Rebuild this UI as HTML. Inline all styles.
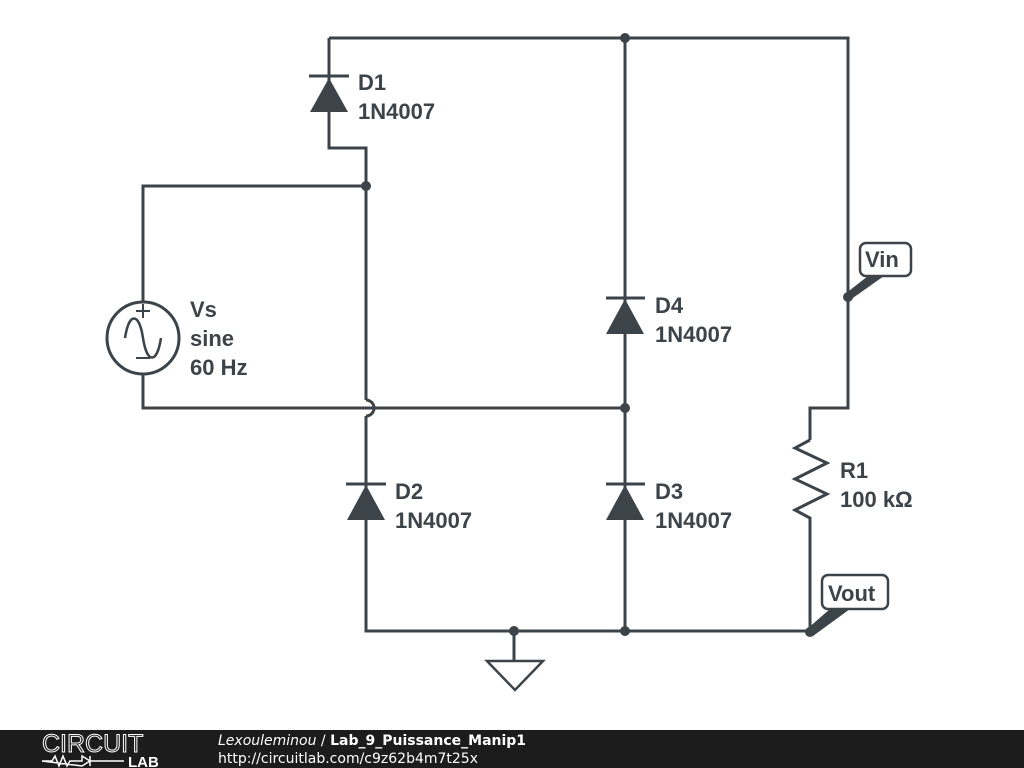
<!DOCTYPE html>
<html><head><style>
body{margin:0;width:1024px;height:768px;overflow:hidden;background:#fff;font-family:"DejaVu Sans",sans-serif}
svg{position:absolute;left:0;top:0}
</style></head><body>
<svg width="1024" height="768" viewBox="0 0 1024 768">
<g stroke="#3c4449" stroke-width="3" fill="none" stroke-linecap="butt">
<path d="M329 38H848V408H810V440"/>
<path d="M810 525V631H366V416"/>
<path d="M366 400V148H329V38"/>
<path d="M366 400A8 8 0 0 1 366 416"/>
<path d="M143 302V186H366"/>
<path d="M143 374V408H625"/>
<path d="M625 38V631"/>
<path d="M514 631V661"/>
<path d="M810 440L795 448L827 463L795 479L827 494L795 510L810 518V525" stroke-linejoin="miter"/>
<circle cx="143" cy="338" r="36"/>
<path d="M125 338C129 312 139 312 143 338S157 364 161 338" stroke-width="2.5"/>
<path d="M136 311H150M143 304V318M136 358H150" stroke-width="2"/>
<path d="M309 76H349M606 298H645M346 484H386M606 484H645"/>
<path d="M487 661H543L515 690Z" stroke-width="2.5" stroke-linejoin="miter"/>
<rect x="860" y="243" width="51" height="33" rx="6" stroke-width="2.5" fill="#fff"/>
<rect x="822" y="575" width="66" height="34" rx="6" stroke-width="2.5" fill="#fff"/>
</g>
<g fill="#3c4449">
<path d="M329 78L310 112H348Z"/>
<path d="M625 299L606 334H644Z"/>
<path d="M625 485L606 520H644Z"/>
<path d="M366 485L347 520H385Z"/>
<circle cx="625" cy="38" r="5"/><circle cx="366" cy="186" r="5"/><circle cx="625" cy="408" r="5"/>
<circle cx="514" cy="631" r="5"/><circle cx="625" cy="631" r="5"/>
<circle cx="848" cy="297" r="5"/><circle cx="810" cy="632" r="5"/>
<path d="M845 294L868 276H884L850 300Z"/>
<path d="M807 629L830 609H850L813 636Z"/>
</g>
<g fill="#3c4449" font-weight="bold" font-size="22" font-family="Liberation Sans">
<text x="358" y="90">D1</text><text x="358" y="119">1N4007</text>
<text x="655" y="313">D4</text><text x="655" y="342">1N4007</text>
<text x="655" y="499">D3</text><text x="655" y="528">1N4007</text>
<text x="395" y="499">D2</text><text x="395" y="528">1N4007</text>
<text x="190" y="317">Vs</text><text x="190" y="346">sine</text><text x="190" y="375">60 Hz</text>
<text x="840" y="478">R1</text><text x="840" y="507">100 kΩ</text>
<text x="865" y="267">Vin</text><text x="828" y="601">Vout</text>
</g>
<rect x="0" y="730" width="1024" height="38" fill="#1c1c1c"/>
<g fill="#fff">
<text x="42" y="752" font-family="Liberation Sans" font-size="25" fill="none" stroke="#fff" stroke-width="1">CIRCUIT</text>
<text x="128" y="767" font-family="Liberation Sans" font-size="15" font-weight="bold">LAB</text>
<path d="M42 761H52L55 756L59 766L63 756L67 766L70 761H82L82 756L90 761L82 766ZM90 756V766M90 761H124" stroke="#fff" stroke-width="1.5" fill="none"/>
<text x="218" y="745" font-size="14"><tspan font-style="italic">Lexouleminou</tspan> / <tspan font-weight="bold">Lab_9_Puissance_Manip1</tspan></text>
<text x="218" y="763" font-size="14">http://circuitlab.com/c9z62b4m7t25x</text>
</g>
</svg>
</body></html>
